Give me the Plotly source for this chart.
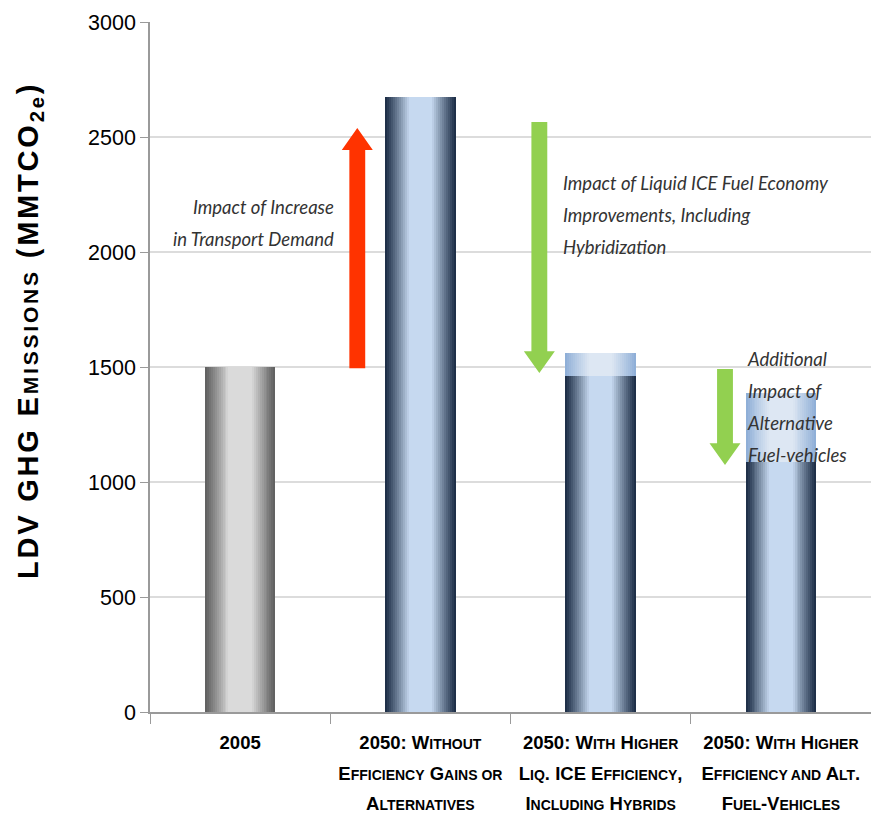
import plotly.graph_objects as go

# ---------------- data ----------------
categories = ["2005", "2050a", "2050b", "2050c"]
B = "<span style='font-size:18.5px'>"
S = "<span style='font-size:14px'>"
E = "</span>"
tick_labels = [
    f"{B}2005{E}",
    f"{B}2050: W{E}{S}ITHOUT{E}<br>{B}E{E}{S}FFICIENCY{E}{B} G{E}{S}AINS OR{E}<br>{B}A{E}{S}LTERNATIVES{E}",
    f"{B}2050: W{E}{S}ITH{E}{B} H{E}{S}IGHER{E}<br>{B}L{E}{S}IQ{E}{B}. ICE E{E}{S}FFICIENCY{E}{B},{E}<br>{B}I{E}{S}NCLUDING{E}{B} H{E}{S}YBRIDS{E}",
    f"{B}2050: W{E}{S}ITH{E}{B} H{E}{S}IGHER{E}<br>{B}E{E}{S}FFICIENCY AND{E}{B} A{E}{S}LT{E}{B}.{E}<br>{B}F{E}{S}UEL{E}{B}-V{E}{S}EHICLES{E}",
]
base_values = [1500, 2675, 1461, 1087]     # solid (dark) part of each bar
top_values = [None, None, 1561, 1387]      # light top segment end

arrow_x = [0.65, 1.66, 2.69]
arrow_from = [1495, 2565, 1491]
arrow_to = [2539, 1474, 1074]
arrow_colors = ["#ff3300", "#92d050", "#92d050"]

y_ticks = [0, 500, 1000, 1500, 2000, 2500, 3000]

# ---------------- style helpers ----------------
BAR_W = 0.39
N_LAYERS = 18


def hex2rgb(h):
    h = h.lstrip("#")
    return [int(h[i:i + 2], 16) for i in (0, 2, 4)]


def lerp(c1, c2, s):
    a, b = hex2rgb(c1), hex2rgb(c2)
    return "rgb(%d,%d,%d)" % tuple(round(a[i] + (b[i] - a[i]) * s) for i in range(3))


def shade(d):
    # d: normalised distance from bar centre (0 centre .. 1 edge)
    s = max(0.0, min(1.0, (1 - d) / 0.68))
    return s ** 1.1


palettes_base = [("#5e5e5e", "#dadada"), ("#1a2b44", "#c6d9f0"),
                 ("#1a2b44", "#c6d9f0"), ("#1a2b44", "#c6d9f0")]
palette_top = ("#8aabd5", "#dde7f3")

fig = go.Figure()
# concentric layers: widest (edge colour) first, narrower/lighter on top
for j in range(N_LAYERS):
    d = 1 - j / N_LAYERS
    w = BAR_W * d
    s = shade(d - 0.5 / N_LAYERS)
    fig.add_trace(go.Bar(
        x=categories, y=base_values,
        offset=-w / 2, width=w,
        marker=dict(color=[lerp(e, c, s) for e, c in palettes_base], line=dict(width=0)),
        hoverinfo="skip", showlegend=False,
    ))
    fig.add_trace(go.Bar(
        x=categories,
        y=[None if tv is None else tv - bv for tv, bv in zip(top_values, base_values)],
        base=base_values,
        offset=-w / 2, width=w,
        marker=dict(color=lerp(palette_top[0], palette_top[1], s ** 0.8), line=dict(width=0)),
        hoverinfo="skip", showlegend=False,
    ))

# arrows
SHAFT_HW = 0.044
HEAD_HW = 0.086
HEAD_LEN = 95
for xa, y0, y1, col in zip(arrow_x, arrow_from, arrow_to, arrow_colors):
    dirn = 1 if y1 > y0 else -1
    yb = y1 - dirn * HEAD_LEN
    path = (f"M{xa - SHAFT_HW},{y0} L{xa - SHAFT_HW},{yb} L{xa - HEAD_HW},{yb} "
            f"L{xa},{y1} L{xa + HEAD_HW},{yb} L{xa + SHAFT_HW},{yb} L{xa + SHAFT_HW},{y0} Z")
    fig.add_shape(type="path", path=path, xref="x", yref="y",
                  fillcolor=col, line=dict(width=0), layer="above")

ann_font = dict(family="Lato, Liberation Sans, Arial", size=24.5, color="#333333")


def sm(t):
    return f"<span style='font-size:18.5px'><i>{t}</i></span>"


fig.add_annotation(x=0.53, y=2125, xref="x", yref="y", xanchor="right", yanchor="middle",
                   align="right", showarrow=False, font=ann_font,
                   text=sm("Impact of Increase") + "<br>" + sm("in Transport Demand"))
fig.add_annotation(x=1.78, y=2160, xref="x", yref="y", xanchor="left", yanchor="middle",
                   align="left", showarrow=False, font=ann_font,
                   text=sm("Impact of Liquid ICE Fuel Economy") + "<br>" + sm("Improvements, Including")
                   + "<br>" + sm("Hybridization"))
fig.add_annotation(x=2.80, y=1325, xref="x", yref="y", xanchor="left", yanchor="middle",
                   align="left", showarrow=False, font=ann_font,
                   text=sm("Additional") + "<br>" + sm("Impact of") + "<br>" + sm("Alternative")
                   + "<br>" + sm("Fuel-vehicles"))

# y-axis title (positioned in pixels converted to paper coords)
fig.add_annotation(x=(30 - 150) / 721, y=(712 - 331) / 690, xref="paper", yref="paper",
                   showarrow=False, textangle=-90,
                   font=dict(family="Liberation Sans, Arial", size=29, color="#000000"),
                   text="<b><span style='letter-spacing:2.8px'>LDV GHG E<span style='font-size:21px'>MISSIONS</span> (MMTCO<sub>2e</sub>)</span></b>",
                   xanchor="center", yanchor="middle")

fig.update_layout(
    width=871, height=814,
    margin=dict(l=150, r=0, t=22, b=102, autoexpand=False),
    paper_bgcolor="white", plot_bgcolor="white",
    barmode="overlay", bargap=0,
    showlegend=False,
    xaxis=dict(
        type="category", tickson="boundaries", ticks="outside", ticklen=10,
        tickcolor="#9a9a9a", tickwidth=1, tickangle=0, automargin=False,
        tickvals=categories, ticktext=[f"<b>{t}</b>" for t in tick_labels],
        tickfont=dict(family="Liberation Sans, Arial", size=23.5, color="#000"),
        ticklabelstandoff=7,
        showline=True, linecolor="#9a9a9a", linewidth=1.5, showgrid=False,
        range=[-0.5, 3.5],
    ),
    yaxis=dict(
        range=[0, 3000], tickvals=y_ticks, ticktext=[str(v) for v in y_ticks],
        ticks="outside", ticklen=8, tickcolor="#9a9a9a", automargin=False,
        tickfont=dict(family="Liberation Sans, Arial", size=21.5, color="#000"),
        showline=True, linecolor="#9a9a9a", linewidth=1.5,
        showgrid=False, zeroline=False,
        minor=dict(tickvals=[500, 1000, 1500, 2000, 2500], showgrid=True,
                   gridcolor="#dcdcdc", gridwidth=1.5, ticks=""),
    ),
)

fig.write_html("out.html")
